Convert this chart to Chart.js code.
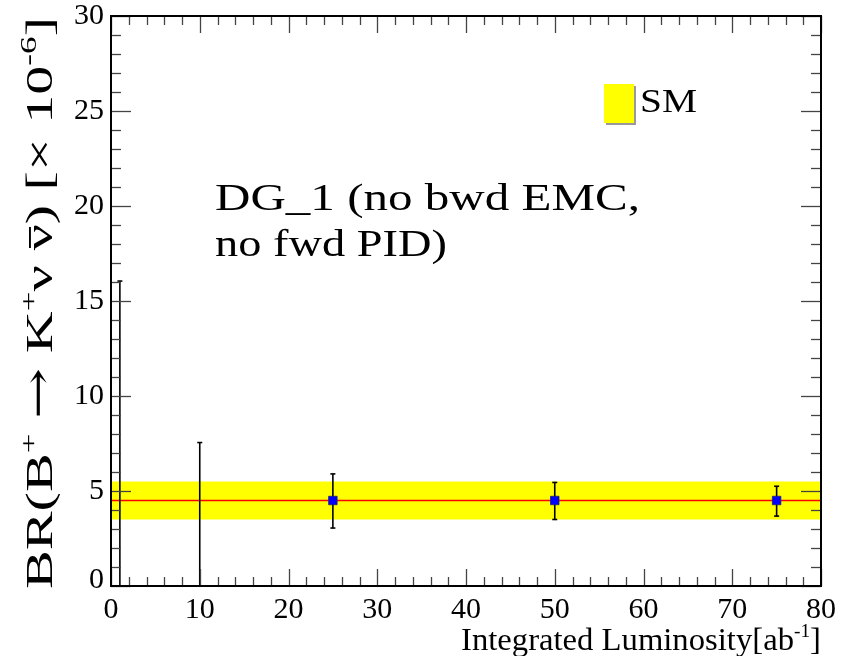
<!DOCTYPE html>
<html>
<head>
<meta charset="utf-8">
<script src="https://cdn.jsdelivr.net/npm/chart.js@4.4.1/dist/chart.umd.min.js"></script>
<style>
html,body{margin:0;padding:0;background:#fff;}
#wrap{width:845px;height:656px;position:relative;}
</style>
</head>
<body>
<div id="wrap"><canvas id="c" width="845" height="656"></canvas></div>
<script>
// ---- data ----
const lumi       = [1, 10, 25, 50, 75];          // integrated luminosity [ab^-1]
const brCentral  = [null, null, 4.5, 4.5, 4.5];  // central BR values (x 1e-6)
const errHigh    = [16.05, 7.55, 5.9, 5.45, 5.25];
const errLow     = [0, 0, 3.05, 3.5, 3.68];
const smBand     = [3.5, 4.5, 5.5];              // SM low, central, high
const xRange     = [0, 80];
const yRange     = [0, 30];
const xTickLabels = [0, 10, 20, 30, 40, 50, 60, 70, 80];
const yTickLabels = [0, 5, 10, 15, 20, 25, 30];
const noteLines  = ["DG_1 (no bwd EMC,", "no fwd PID)"];
const legendLabel = "SM";

const FONT = '"Liberation Serif", serif';

function segFont(s, size){
  const sz = s.sup ? Math.round(size*0.6) : Math.round(size*(s.k || 1));
  return sz + 'px ' + (s.font || FONT);
}
function segWidth(ctx, s, size){
  ctx.font = segFont(s, size);
  return ctx.measureText(s.t).width;
}
function drawRich(ctx, segs, x, y, size, align, fitWidth){
  let total = 0;
  segs.forEach(s => total += segWidth(ctx, s, size));
  const sx = fitWidth ? fitWidth/total : 1;
  ctx.save();
  ctx.translate(x, y);
  ctx.scale(sx, 1);
  let cx = align === 'center' ? -total/2 : (align === 'right' ? -total : 0);
  ctx.fillStyle = '#000';
  ctx.strokeStyle = '#000';
  ctx.textAlign = 'left';
  ctx.textBaseline = 'alphabetic';
  segs.forEach(s => {
    const w = segWidth(ctx, s, size);
    ctx.fillText(s.t, cx, s.sup ? -size*0.42 : (s.dy || 0));
    if (s.bar){
      ctx.lineWidth = size*0.05;
      ctx.beginPath();
      ctx.moveTo(cx + w*0.1, -size*0.58);
      ctx.lineTo(cx + w*0.9, -size*0.58);
      ctx.stroke();
    }
    cx += w;
  });
  ctx.restore();
}

const framePlugin = {
  id: 'frame',
  afterDatasetDraw(chart, args){
    if (args.index !== 2) return; // after SM central line, before markers
    const ctx = chart.ctx, xs = chart.scales.x, ys = chart.scales.y;
    ctx.save();
    ctx.strokeStyle = '#000';
    ctx.lineWidth = 1.6;
    for (let i = 0; i < lumi.length; i++){
      const px = xs.getPixelForValue(lumi[i]);
      const pt = ys.getPixelForValue(errHigh[i]);
      const pb = ys.getPixelForValue(errLow[i]);
      ctx.beginPath(); ctx.moveTo(px, pt); ctx.lineTo(px, pb); ctx.stroke();
      ctx.beginPath(); ctx.moveTo(px-2.5, pt); ctx.lineTo(px+2.5, pt); ctx.stroke();
      if (errLow[i] > yRange[0]){
        ctx.beginPath(); ctx.moveTo(px-2.5, pb); ctx.lineTo(px+2.5, pb); ctx.stroke();
      }
    }
    ctx.restore();
  },
  afterDraw(chart){
    const ctx = chart.ctx, a = chart.chartArea, xs = chart.scales.x, ys = chart.scales.y;
    ctx.save();
    // ticks (inside, all four sides)
    ctx.strokeStyle = '#444';
    ctx.lineWidth = 1.3;
    for (let v = xRange[0]; v <= xRange[1]; v += 2){
      const px = Math.round(xs.getPixelForValue(v)) + 0.5;
      const len = (v % 10 === 0) ? 17 : 9;
      ctx.beginPath(); ctx.moveTo(px, a.bottom); ctx.lineTo(px, a.bottom - len); ctx.stroke();
      ctx.beginPath(); ctx.moveTo(px, a.top); ctx.lineTo(px, a.top + len); ctx.stroke();
    }
    for (let v = yRange[0]; v <= yRange[1]; v += 1){
      const py = Math.round(ys.getPixelForValue(v)) + 0.5;
      const len = (v % 5 === 0) ? 20 : 10;
      ctx.beginPath(); ctx.moveTo(a.left, py); ctx.lineTo(a.left + len, py); ctx.stroke();
      ctx.beginPath(); ctx.moveTo(a.right, py); ctx.lineTo(a.right - len, py); ctx.stroke();
    }
    // frame
    ctx.strokeStyle = '#000';
    ctx.lineWidth = 2;
    ctx.strokeRect(a.left, a.top, a.right - a.left, a.bottom - a.top);

    // tick labels
    ctx.fillStyle = '#000';
    ctx.font = '30px ' + FONT;
    ctx.textAlign = 'center';
    ctx.textBaseline = 'top';
    xTickLabels.forEach(v => ctx.fillText(String(v), xs.getPixelForValue(v), a.bottom + 9));
    ctx.textAlign = 'right';
    ctx.textBaseline = 'middle';
    yTickLabels.forEach(v => ctx.fillText(String(v), a.left - 7, ys.getPixelForValue(v) - (v === 0 ? 6 : 0)));

    // x title
    drawRich(ctx, [{t:'Integrated Luminosity[ab'}, {t:'-1', sup:true}, {t:']'}],
             a.right, 650, 32, 'right', 360);

    // y title (rotated)
    ctx.save();
    ctx.translate(52, 303);
    ctx.rotate(-Math.PI/2);
    drawRich(ctx, [{t:'BR(B'}, {t:'+', sup:true}, {t:' '}, {t:'\u2192', font:'"DejaVu Serif", serif', k:1.05, dy:-1},
                   {t:' K'}, {t:'+', sup:true},
                   {t:'\u03BD '}, {t:'\u03BD', bar:true}, {t:') [\u00D7 10'}, {t:'-6', sup:true}, {t:']'}],
             0, 0, 38, 'center', 572);
    ctx.restore();

    // note text
    drawRich(ctx, [{t:noteLines[0]}], 215, 210, 38, 'left', 425);
    drawRich(ctx, [{t:noteLines[1]}], 215, 256, 38, 'left', 232);

    // legend
    ctx.fillStyle = '#999';
    ctx.fillRect(606, 86, 30, 39);
    ctx.fillStyle = '#ffff00';
    ctx.fillRect(604, 84, 30, 39);
    drawRich(ctx, [{t:legendLabel}], 640, 112, 33, 'left', 57);
    ctx.restore();
  }
};

const ctx = document.getElementById('c').getContext('2d');
new Chart(ctx, {
  type: 'scatter',
  data: {
    datasets: [
      { // markers
        data: lumi.map((x, i) => ({x: x, y: brCentral[i]})).filter(p => p.y !== null),
        pointStyle: 'rect', pointRadius: 6, pointHoverRadius: 6,
        backgroundColor: '#0000ff', borderColor: '#1a1a80', borderWidth: 0.8,
        showLine: false, order: 0
      },
      { // SM band upper edge
        data: [{x: xRange[0], y: smBand[2]}, {x: xRange[1], y: smBand[2]}],
        showLine: true, pointRadius: 0, borderWidth: 0, borderColor: 'rgba(0,0,0,0)',
        backgroundColor: '#ffff00', fill: 3, order: 5
      },
      { // SM central line
        data: [{x: xRange[0], y: smBand[1]}, {x: xRange[1], y: smBand[1]}],
        showLine: true, pointRadius: 0, borderWidth: 1.5, borderColor: '#ff0000', fill: false, order: 1
      },
      { // SM band lower edge
        data: [{x: xRange[0], y: smBand[0]}, {x: xRange[1], y: smBand[0]}],
        showLine: true, pointRadius: 0, borderWidth: 0, borderColor: 'rgba(0,0,0,0)', fill: false, order: 6
      },
      { // band left edge
        data: [{x: xRange[0], y: smBand[0]}, {x: xRange[0], y: smBand[2]}],
        showLine: true, pointRadius: 0, borderWidth: 2, borderColor: '#ff0000', fill: false, order: 2
      },
      { // band right edge
        data: [{x: xRange[1], y: smBand[0]}, {x: xRange[1], y: smBand[2]}],
        showLine: true, pointRadius: 0, borderWidth: 2, borderColor: '#ff0000', fill: false, order: 3
      }
    ]
  },
  options: {
    responsive: false,
    animation: false,
    events: [],
    layout: { padding: { left: 111, right: 24, top: 16, bottom: 70 } },
    plugins: { legend: { display: false }, tooltip: { enabled: false }, filler: { propagate: false } },
    scales: {
      x: { type: 'linear', min: xRange[0], max: xRange[1], display: false },
      y: { type: 'linear', min: yRange[0], max: yRange[1], display: false }
    }
  },
  plugins: [framePlugin]
});
</script>
</body>
</html>
